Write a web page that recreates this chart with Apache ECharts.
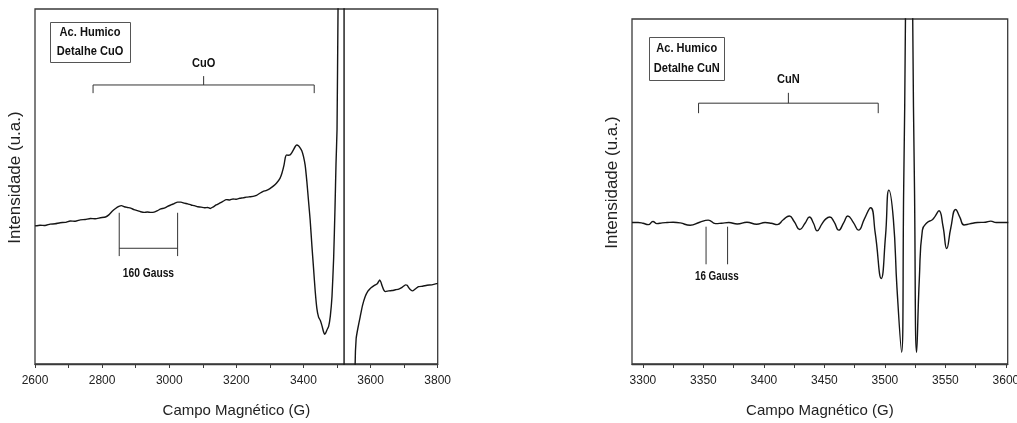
<!DOCTYPE html>
<html>
<head>
<meta charset="utf-8">
<script src="https://cdn.jsdelivr.net/npm/echarts@6/dist/echarts.min.js"></script>
<style>
  html, body { margin: 0; padding: 0; background: #fff; }
  #chart { width: 1017px; height: 423px; }
</style>
</head>
<body>
<div id="chart"></div>
<script>
// EPR spectrum, wide scan (CuO region), field in gauss
const cuoField = [2600,2615,2630,2645,2660,2675,2690,2705,2720,2735,2750,2765,2780,2795,2810,2820,2830,2840,2850,2858,2866,2875,2885,2895,2905,2915,2925,2935,2945,2955,2965,2975,2985,2995,3005,3015,3025,3035,3045,3055,3065,3075,3085,3095,3105,3115,3122,3130,3140,3150,3160,3170,3180,3190,3200,3210,3220,3230,3240,3250,3260,3270,3280,3290,3300,3310,3320,3330,3336,3342,3346,3350,3355,3360,3365,3370,3375,3380,3385,3390,3395,3400,3405,3410,3415,3420,3425,3430,3435,3440,3445,3450,3455,3460,3463,3466,3470,3475,3480,3485,3490,3494,3497,3500,3503,3507,3512,3521,3521,3540,3554,3557,3562,3569,3576,3584,3592,3599,3606,3614,3620,3627,3631,3634,3639,3644,3654,3664,3674,3684,3694,3704,3709,3713,3719,3726,3734,3743,3755,3768,3783,3800];
const cuoIntensity = [38.9,39.1,39.0,39.4,39.5,39.8,39.9,40.3,40.2,40.6,40.7,41.0,40.9,41.2,41.4,42.0,43.0,43.8,44.4,44.6,44.3,44.1,43.9,43.5,43.2,42.9,42.7,42.8,42.7,42.8,43.2,43.7,43.9,44.4,44.8,45.2,45.6,45.6,45.3,45.1,44.8,44.6,44.3,44.2,44.0,44.1,43.8,44.2,44.8,45.3,45.8,46.3,46.2,46.5,46.4,46.7,46.8,47.0,47.1,47.2,47.5,48.1,48.6,48.9,49.4,50.1,51.0,52.3,53.8,56.0,58.2,58.9,58.8,58.9,59.5,60.3,61.2,61.7,61.5,60.9,60.1,58.5,56.0,51.5,46.0,40.5,33.5,27.0,20.5,15.6,13.2,12.3,10.8,9.0,8.4,8.7,9.6,10.6,13.5,19.0,30.0,44.0,56.5,66.0,100,140,180,250,-150,-150,0,7.2,10.0,13.3,16.5,19.0,20.5,21.3,21.8,22.3,22.6,23.7,23.0,22.1,20.9,20.4,20.6,20.7,20.9,21.1,21.6,22.3,22.2,21.6,20.9,20.6,21.2,21.8,21.9,22.2,22.3,22.7];

// EPR spectrum, narrow scan (CuN hyperfine region), field in gauss
const cunField = [3291,3296,3300,3304.5,3308.3,3311.6,3316,3320,3325,3331,3339,3347,3354,3360,3365,3371,3378,3386,3394,3401,3406,3411,3416,3421,3425,3429.7,3434,3437.7,3441,3444,3448,3451,3454.5,3458,3461.9,3466,3469.4,3474,3478.2,3483,3488.2,3492,3497,3500.5,3503.3,3507,3510,3513.8,3515.5,3517,3520,3523,3524.5,3526.2,3528.5,3531,3535,3539.2,3541.5,3544.7,3548,3551.1,3554.5,3558.5,3562,3565.4,3570,3576.5,3583,3587.5,3592,3602];
const cunIntensity = [41.0,41.0,40.8,40.4,41.3,40.7,40.9,41.0,41.1,40.9,40.2,41.1,41.7,40.7,40.8,41.0,40.6,41.1,40.5,41.0,40.8,40.4,41.8,42.9,41.3,39.0,40.8,42.6,40.8,38.6,40.6,42.0,42.6,41.2,38.8,41.0,42.9,41.0,38.8,42.0,45.3,38.0,24.8,37.0,50.4,42.0,22.0,3.4,50,100,300,100,50,3.4,25.0,38.8,41.0,41.8,42.8,44.4,40.0,33.5,39.5,44.8,42.5,40.3,40.6,41.0,41.1,41.4,41.0,41.0];

// axis tick values
const cuoTickLabels = [2600, 2800, 3000, 3200, 3400, 3600, 3800];
const cunTickLabels = [3300, 3350, 3400, 3450, 3500, 3550, 3600];
const cunTickMarks = [3300, 3325, 3350, 3375, 3400, 3425, 3450, 3475, 3500, 3525, 3550, 3575, 3600];

// annotation placement (data units of each panel)
const panelNotes = [
  {
    box: { x1: 2645, x2: 2883, y1: 96.4, y2: 85.2, lines: ['Ac. Humico', 'Detalhe CuO'] },
    bracket: { from: 2773, to: 3432, level: 78.6, foot: 76.3, stem: 81.1, text: 'CuO', textY: 84.8 },
    span: { from: 2851, to: 3025, top: 42.6, bottom: 30.4, bar: 32.6, text: '160 Gauss', textY: 25.6, size: 12 }
  },
  {
    box: { x1: 3305.2, x2: 3367.3, y1: 94.9, y2: 82.5, lines: ['Ac. Humico', 'Detalhe CuN'] },
    bracket: { from: 3346, to: 3494.5, level: 75.6, foot: 72.7, stem: 78.6, text: 'CuN', textY: 82.5 },
    span: { from: 3352.2, to: 3370, top: 39.8, bottom: 28.9, bar: null, text: '16 Gauss', textY: 25.3, size: 11.5 }
  }
];

const zip = (xs, ys) => xs.map((x, i) => [x, ys[i]]);

const FRAME = '#3a3a3a';
const LABEL_FONT = '"Liberation Sans", Arial, sans-serif';
const NOTE_FONT = '"Liberation Sans", Arial, sans-serif';
const NOTE_SQUEEZE = 0.82; // condensed look of the bold note lettering

function fieldAxis(gridIndex, extra) {
  return Object.assign({
    type: 'value',
    gridIndex: gridIndex,
    name: 'Campo Magnético (G)',
    nameLocation: 'middle',
    nameGap: 39,
    nameTextStyle: { fontFamily: LABEL_FONT, fontSize: 15, color: '#222' },
    axisLine: { show: true, lineStyle: { color: FRAME, width: 1.3 } },
    axisTick: { show: true, inside: false, length: 4, lineStyle: { color: FRAME, width: 1 } },
    axisLabel: { margin: 11, fontFamily: LABEL_FONT, fontSize: 12, color: '#222', formatter: v => String(v) },
    splitLine: { show: false }
  }, extra);
}

function intensityAxis(gridIndex) {
  return {
    type: 'value',
    gridIndex: gridIndex,
    min: 0,
    max: 100,
    name: 'Intensidade (u.a.)',
    nameLocation: 'middle',
    nameGap: 11,
    nameTextStyle: { fontFamily: LABEL_FONT, fontSize: 17, color: '#222', padding: [0, 0, 0, 18] },
    axisLine: { show: false },
    axisTick: { show: false },
    axisLabel: { show: false },
    splitLine: { show: false }
  };
}

const chart = echarts.init(document.getElementById('chart'), null, { renderer: 'canvas' });

const gridBase = { show: true, borderColor: FRAME, borderWidth: 1.3, backgroundColor: 'transparent', outerBoundsMode: 'none', containLabel: false };

chart.setOption({
  animation: false,
  backgroundColor: '#fff',
  grid: [
    Object.assign({ left: 35, right: 579.3, top: 9, bottom: 59 }, gridBase),
    Object.assign({ left: 632, right: 9.3, top: 19, bottom: 59 }, gridBase)
  ],
  xAxis: [
    fieldAxis(0, {
      min: cuoTickLabels[0],
      max: cuoTickLabels[cuoTickLabels.length - 1],
      interval: 200,
      minorTick: { show: true, splitNumber: 2, length: 4, lineStyle: { color: FRAME, width: 1 } }
    }),
    fieldAxis(1, {
      min: 3291,
      max: 3601.5,
      axisTick: { show: true, inside: false, length: 4, customValues: cunTickMarks, lineStyle: { color: FRAME, width: 1 } },
      axisLabel: { margin: 11, fontFamily: LABEL_FONT, fontSize: 12, color: '#222', customValues: cunTickLabels, formatter: v => String(v) }
    })
  ],
  yAxis: [intensityAxis(0), intensityAxis(1)],
  series: [
    {
      type: 'line',
      xAxisIndex: 0, yAxisIndex: 0,
      data: zip(cuoField, cuoIntensity),
      showSymbol: false,
      smooth: 0.15,
      clip: true,
      lineStyle: { color: '#151515', width: 1.4 }
    },
    {
      type: 'line',
      xAxisIndex: 1, yAxisIndex: 1,
      data: zip(cunField, cunIntensity),
      showSymbol: false,
      smooth: 0.5,
      clip: true,
      lineStyle: { color: '#151515', width: 1.4 }
    }
  ]
});

// annotations: labelled boxes, brackets and spacing markers
function buildNotes() {
  const out = [];
  const ink = { stroke: '#333', lineWidth: 1 };
  panelNotes.forEach((n, g) => {
    const P = (x, y) => chart.convertToPixel({ gridIndex: g }, [x, y]);
    const seg = (a, b) => out.push({ type: 'line', silent: true, shape: { x1: a[0], y1: a[1], x2: b[0], y2: b[1] }, style: ink, z: 10 });
    const label = (p, text, size) => out.push({
      type: 'text', silent: true, x: p[0], y: p[1], z: 11, scaleX: NOTE_SQUEEZE,
      style: { text: text, fontFamily: NOTE_FONT, fontWeight: 'bold', fontSize: size, fill: '#111', align: 'center', verticalAlign: 'middle' }
    });

    // legend box
    const b0 = P(n.box.x1, n.box.y1), b1 = P(n.box.x2, n.box.y2);
    out.push({
      type: 'rect', silent: true, z: 10,
      shape: { x: Math.round(b0[0]) + 0.5, y: Math.round(b0[1]) + 0.5, width: Math.round(b1[0] - b0[0]), height: Math.round(b1[1] - b0[1]) },
      style: { fill: '#fff', stroke: '#555', lineWidth: 1 }
    });
    const cx = (b0[0] + b1[0]) / 2, cy = (b0[1] + b1[1]) / 2, h = b1[1] - b0[1];
    label([cx, cy - h * 0.23], n.box.lines[0], 13.5);
    label([cx, cy + h * 0.23], n.box.lines[1], 13.5);

    // bracket over the hyperfine region
    const br = n.bracket, mid = (br.from + br.to) / 2;
    seg(P(br.from, br.level), P(br.to, br.level));
    seg(P(br.from, br.level), P(br.from, br.foot));
    seg(P(br.to, br.level), P(br.to, br.foot));
    seg(P(mid, br.level), P(mid, br.stem));
    label(P(mid, br.textY), br.text, 13.5);

    // line spacing marker
    const sp = n.span;
    seg(P(sp.from, sp.top), P(sp.from, sp.bottom));
    seg(P(sp.to, sp.top), P(sp.to, sp.bottom));
    if (sp.bar !== null) seg(P(sp.from, sp.bar), P(sp.to, sp.bar));
    label(P((sp.from + sp.to) / 2, sp.textY), sp.text, sp.size + 0.5);
  });
  return out;
}

chart.setOption({ graphic: { elements: buildNotes() } });
</script>
</body>
</html>
